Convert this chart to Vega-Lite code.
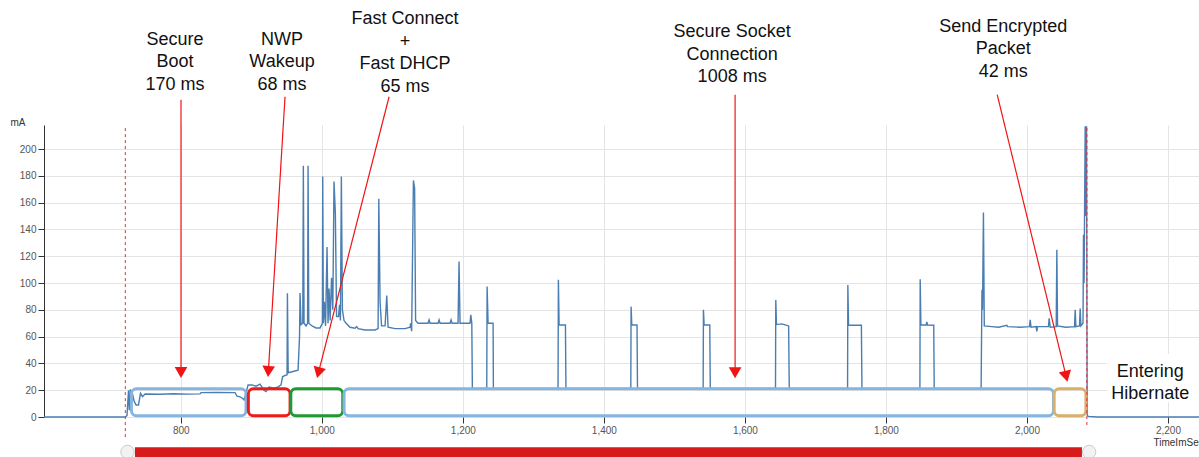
{
  "$schema": "https://vega.github.io/schema/vega-lite/v6.json",
  "autosize": {"type": "none"},
  "padding": {"left": 44, "top": 125, "right": 0, "bottom": 40},
  "width": 1155,
  "height": 292,
  "background": "white",
  "config": {
    "view": {"stroke": null},
    "font": "Liberation Sans",
    "axis": {
      "labelFont": "Liberation Sans",
      "titleFont": "Liberation Sans",
      "labelFontSize": 10,
      "labelColor": "#555555",
      "titleFontSize": 10,
      "titleFontWeight": "normal",
      "titleColor": "#333333",
      "gridColor": "#e4e4e4",
      "gridWidth": 1,
      "tickColor": "#333333",
      "tickSize": 6,
      "labelPadding": 2
    },
    "axisX": {"domain": false},
    "axisY": {"domainColor": "#333333", "domainWidth": 1}
  },
  "datasets": {
    "trace": [
      {"t":606,"mA":0},{"t":721,"mA":0},{"t":723.7,"mA":1},{"t":725.9,"mA":20},{"t":727,"mA":5},{"t":728.5,"mA":20},
      {"t":730.8,"mA":19},{"t":733.7,"mA":12},{"t":736.5,"mA":9},{"t":740,"mA":9},{"t":742.9,"mA":17.7},{"t":745.7,"mA":15.2},
      {"t":749.3,"mA":17.2},{"t":770,"mA":17.0},{"t":790,"mA":17.4},{"t":810,"mA":17.1},{"t":827.3,"mA":17.3},{"t":828.7,"mA":18.2},
      {"t":850,"mA":18.4},{"t":876.9,"mA":18.2},{"t":879.8,"mA":15.5},{"t":884,"mA":15},{"t":886.9,"mA":14.2},{"t":889.7,"mA":12.7},
      {"t":892.5,"mA":18},{"t":895.4,"mA":23.9},{"t":901,"mA":24},{"t":906.7,"mA":23},{"t":912.4,"mA":24.5},{"t":918,"mA":20},
      {"t":920.9,"mA":19},{"t":925.1,"mA":22.4},{"t":932.2,"mA":21.5},{"t":937.9,"mA":22.5},{"t":942.2,"mA":24},{"t":944.3,"mA":30},
      {"t":947.8,"mA":31},{"t":950.7,"mA":31.5},{"t":951.2,"mA":92.4},{"t":952.3,"mA":33},{"t":959.2,"mA":34},{"t":966.3,"mA":35},
      {"t":968.4,"mA":60},{"t":969.1,"mA":92.6},{"t":970.5,"mA":69},{"t":973.0,"mA":70},{"t":973.8,"mA":187.5},{"t":974.8,"mA":70},
      {"t":977.6,"mA":68},{"t":979.8,"mA":70},{"t":980.5,"mA":187.5},{"t":981.5,"mA":70},{"t":986.1,"mA":68},{"t":991.8,"mA":66.5},
      {"t":997.5,"mA":66.5},{"t":1000.8,"mA":70},{"t":1001.3,"mA":179.5},{"t":1002.2,"mA":70},{"t":1003.6,"mA":86},{"t":1005.3,"mA":68},
      {"t":1007.4,"mA":127},{"t":1008.8,"mA":70},{"t":1010.3,"mA":96},{"t":1011.8,"mA":72},{"t":1013.8,"mA":104},{"t":1015.6,"mA":80},
      {"t":1017.3,"mA":175.8},{"t":1019.2,"mA":152},{"t":1020.9,"mA":75},{"t":1023.7,"mA":75},{"t":1025.1,"mA":83.7},{"t":1026.4,"mA":72},
      {"t":1027.7,"mA":179.5},{"t":1029.2,"mA":80},{"t":1031.5,"mA":72},{"t":1034.4,"mA":70},{"t":1040,"mA":67},{"t":1047.1,"mA":66.3},
      {"t":1049.5,"mA":67.5},{"t":1051.4,"mA":66},{"t":1061.3,"mA":65},{"t":1075.5,"mA":65},{"t":1079.8,"mA":66},{"t":1080.8,"mA":163},
      {"t":1082.6,"mA":86},{"t":1084.7,"mA":68},{"t":1089.7,"mA":68},{"t":1092.1,"mA":90.6},{"t":1093.9,"mA":67},{"t":1103.9,"mA":66},
      {"t":1118.1,"mA":66},{"t":1125.2,"mA":67},{"t":1125.9,"mA":70},{"t":1127.4,"mA":64},{"t":1129.9,"mA":176.6},{"t":1131.6,"mA":171},
      {"t":1133,"mA":72},{"t":1136.5,"mA":70},{"t":1150.7,"mA":70},{"t":1152.1,"mA":72.5},{"t":1153.5,"mA":70},{"t":1164.9,"mA":70},
      {"t":1166.3,"mA":72.5},{"t":1167.7,"mA":70},{"t":1181.9,"mA":70},{"t":1183.3,"mA":72.5},{"t":1184.7,"mA":70},{"t":1193.2,"mA":70},
      {"t":1194.6,"mA":116},{"t":1196,"mA":70},{"t":1210.2,"mA":70},{"t":1211.3,"mA":76.2},{"t":1212.7,"mA":70},{"t":1213.5,"mA":21.4},
      {"t":1233.9,"mA":21.4},{"t":1234.4,"mA":97.4},{"t":1235.8,"mA":70},{"t":1242.9,"mA":70},{"t":1243.3,"mA":21.4},
      {"t":1335,"mA":21.4},{"t":1335.5,"mA":102.4},{"t":1336.5,"mA":68.7},{"t":1345.5,"mA":68.7},{"t":1346.2,"mA":21.4},
      {"t":1438.2,"mA":21.4},{"t":1438.6,"mA":82.4},{"t":1439.6,"mA":68.7},{"t":1447,"mA":68.7},{"t":1447.7,"mA":21.4},
      {"t":1540.8,"mA":21.4},{"t":1541.2,"mA":80},{"t":1542.2,"mA":68.7},{"t":1550.2,"mA":68.7},{"t":1550.9,"mA":21.4},
      {"t":1643.4,"mA":21.4},{"t":1643.8,"mA":87.4},{"t":1644.8,"mA":69},{"t":1652,"mA":69.5},{"t":1656,"mA":69},{"t":1662,"mA":68},{"t":1662.9,"mA":21.4},
      {"t":1745.6,"mA":21.4},{"t":1746,"mA":98.6},{"t":1747,"mA":68.7},{"t":1765.2,"mA":68.5},{"t":1766,"mA":21.4},
      {"t":1848.2,"mA":21.4},{"t":1848.6,"mA":102.9},{"t":1849.6,"mA":68.7},{"t":1857,"mA":68.7},{"t":1858,"mA":71},{"t":1859,"mA":68.7},{"t":1867.8,"mA":68.5},{"t":1868.5,"mA":21.4},
      {"t":1935,"mA":21.4},{"t":1936.2,"mA":95},{"t":1937,"mA":80},{"t":1938.3,"mA":152.6},{"t":1939.5,"mA":68},{"t":1950,"mA":67.5},
      {"t":1960,"mA":67},{"t":1971.5,"mA":68.5},{"t":1972.5,"mA":67.5},{"t":1990,"mA":67},{"t":2003.5,"mA":67.5},{"t":2004.6,"mA":72.5},
      {"t":2005.8,"mA":67},{"t":2013,"mA":67.5},{"t":2014,"mA":64},{"t":2015,"mA":67.5},{"t":2030.5,"mA":67.5},{"t":2031.5,"mA":73.6},
      {"t":2033,"mA":67},{"t":2041.5,"mA":67.5},{"t":2042.4,"mA":124.8},{"t":2043.4,"mA":68},{"t":2055,"mA":67},{"t":2067.5,"mA":67.5},
      {"t":2068.4,"mA":80},{"t":2069.4,"mA":67.5},{"t":2074.5,"mA":68},{"t":2075.5,"mA":81},{"t":2076.5,"mA":68},{"t":2079.5,"mA":70},
      {"t":2080.2,"mA":136},{"t":2081,"mA":100},{"t":2082.6,"mA":217},{"t":2083.5,"mA":150},{"t":2084.5,"mA":217},{"t":2085.4,"mA":1.5},
      {"t":2086.8,"mA":0.5},{"t":2100,"mA":0},{"t":2244,"mA":0}
    ],
    "phases": [
      {"phase":"boot","t":730,"t2":892.5,"mA":1,"mA2":21},
      {"phase":"nwp","t":895.8,"t2":955,"mA":1,"mA2":21},
      {"phase":"fast","t":956,"t2":1029.7,"mA":1,"mA2":21},
      {"phase":"socket","t":1031.5,"t2":2037.6,"mA":1,"mA2":21},
      {"phase":"send","t":2038.6,"t2":2083.6,"mA":1,"mA2":21}
    ],
    "markers": [
      {"t":721.3,"mA":-15,"mA2":218},
      {"t":2085,"mA":-6,"mA2":218}
    ],
    "arrows": [
      {"id":"boot","t":800.3,"mA":236.8,"t2":800.3,"mA2":33.6},
      {"id":"nwp","t":947.8,"mA":239.1,"t2":924.2,"mA2":34},
      {"id":"fast","t":1095.4,"mA":239.1,"t2":995.2,"mA2":33.1},
      {"id":"socket","t":1586.1,"mA":240.6,"t2":1586.1,"mA2":33},
      {"id":"send","t":1957.8,"mA":240.6,"t2":2055.6,"mA2":30.3}
    ],
    "heads": [
      {"id":"boot","t":800.3,"mA":33.2},
      {"id":"nwp","t":924.2,"mA":34},
      {"id":"fast","t":995.2,"mA":33.1},
      {"id":"socket","t":1586.1,"mA":33},
      {"id":"send","t":2055.6,"mA":30.3}
    ],
    "labels": [
      {"label":"Secure\nBoot\n170 ms","t":791.8,"mA":281.5},
      {"label":"NWP\nWakeup\n68 ms","t":943.6,"mA":281.5},
      {"label":"Fast Connect\n+\nFast DHCP\n65 ms","t":1118.1,"mA":297.1},
      {"label":"Secure Socket\nConnection\n1008 ms","t":1581.9,"mA":287.4},
      {"label":"Send Encrypted\nPacket\n42 ms","t":1966.3,"mA":291.2},
      {"label":"Entering\nHibernate","t":2174.8,"mA":33.6}
    ],
    "whitebox": [{"t":2114,"t2":2244,"mA":11,"mA2":47}],
    "scrollbar": [{"t":735,"t2":2078,"mA":-22.6,"mA2":-40}],
    "handles": [{"t":724.4,"mA":-26.1},{"t":2088.2,"mA":-26.1}]
  },
  "encoding": {
    "x": {"field":"t","type":"quantitative","title":"TimeImSec",
      "scale":{"domain":[606,2244],"nice":false,"zero":false},
      "axis":{"values":[800,1000,1200,1400,1600,1800,2000,2200],"format":",d","titleAngle":0,"titleAlign":"left","titleX":1109,"titleY":25,"titleBaseline":"middle"}},
    "y": {"field":"mA","type":"quantitative","title":"mA",
      "scale":{"domain":[0,218],"nice":false,"zero":false},
      "axis":{"values":[0,20,40,60,80,100,120,140,160,180,200],"format":"d","titleAngle":0,"titleAlign":"left","titleX":-34,"titleY":-3,"titleBaseline":"middle"}}
  },
  "layer": [
    {"data":{"name":"whitebox"},"mark":{"type":"rect","fill":"white","stroke":null},
     "encoding":{"x2":{"field":"t2"},"y2":{"field":"mA2"}}},
    {"data":{"name":"trace"},"mark":{"type":"line","color":"#4a7eb2","strokeWidth":1.4},"encoding":{}},
    {"data":{"name":"phases"},"mark":{"type":"rect","fillOpacity":0,"fill":"white","strokeWidth":3,"cornerRadius":5},
     "encoding":{"x2":{"field":"t2"},"y2":{"field":"mA2"},
       "stroke":{"field":"phase","type":"nominal","legend":null,
         "scale":{"domain":["boot","nwp","fast","socket","send"],"range":["#86b5e0","#ec1c1c","#1f9a32","#86b5e0","#d8b06b"]}}}},
    {"data":{"name":"markers"},"mark":{"type":"rule","color":"#d9343a","strokeWidth":1,"strokeDash":[3,3]},
     "encoding":{"y2":{"field":"mA2"}}},
    {"data":{"name":"arrows"},"mark":{"type":"rule","color":"#f01414","strokeWidth":1.2},
     "encoding":{"x2":{"field":"t2"},"y2":{"field":"mA2"}}},
    {"data":{"name":"heads"},"transform":[{"filter":"datum.id === 'boot' || datum.id === 'socket'"}],
     "mark":{"type":"point","shape":"triangle-down","filled":true,"color":"#f01414","size":160,"opacity":1},"encoding":{}},
    {"data":{"name":"heads"},"transform":[{"filter":"datum.id === 'nwp'"}],
     "mark":{"type":"point","shape":"triangle-down","filled":true,"color":"#f01414","size":160,"opacity":1,"angle":3.5},"encoding":{}},
    {"data":{"name":"heads"},"transform":[{"filter":"datum.id === 'fast'"}],
     "mark":{"type":"point","shape":"triangle-down","filled":true,"color":"#f01414","size":160,"opacity":1,"angle":14.4},"encoding":{}},
    {"data":{"name":"heads"},"transform":[{"filter":"datum.id === 'send'"}],
     "mark":{"type":"point","shape":"triangle-down","filled":true,"color":"#f01414","size":160,"opacity":1,"angle":346.2},"encoding":{}},
    {"data":{"name":"labels"},"mark":{"type":"text","font":"Liberation Sans","fontSize":18,"lineBreak":"\n","lineHeight":22.5,"align":"center","baseline":"middle","color":"#111111"},
     "encoding":{"text":{"field":"label","type":"nominal"}}},
    {"data":{"name":"scrollbar"},"mark":{"type":"rect","fill":"#d71a1a"},
     "encoding":{"x2":{"field":"t2"},"y2":{"field":"mA2"}}},
    {"data":{"name":"handles"},"mark":{"type":"point","shape":"circle","filled":true,"fill":"#f2f2f2","stroke":"#cccccc","strokeWidth":1,"size":180,"opacity":1},"encoding":{}}
  ]
}
